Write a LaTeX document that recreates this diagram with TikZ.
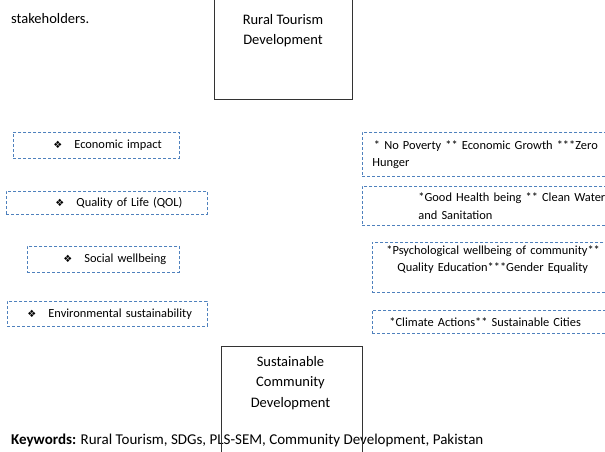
\documentclass[tikz,border=0pt]{standalone}
\usepackage{fontspec}
\setmainfont{Carlito}
\newfontfamily\symfont{DejaVu Sans}
\usetikzlibrary{positioning}
\definecolor{boxblue}{RGB}{79,129,189}
\newcommand{\bul}{{\fontsize{10}{10}\symfont ❖}}
\tikzset{
    sdg box/.style={draw=boxblue, dash pattern=on 3pt off 2pt, line width=0.9pt, anchor=north west, inner ysep=0pt, align=left, font=\fontsize{12.4}{17.5}\selectfont}, % dashed boxes
    left item/.style 2 args={sdg box, inner xsep=0pt, text width=#1, minimum height=#2},
    right item/.style 2 args={sdg box, inner xsep=10pt, text width=#1, minimum height=#2},
    frame box/.style={draw=black!80, line width=1pt, anchor=north west},
    frame label/.style={inner sep=0pt, align=center, anchor=north, font=\fontsize{14.5}{20.5}\selectfont},
    plain text/.style={inner sep=0pt, anchor=base west, font=\fontsize{14.5}{17}\selectfont}
}
\begin{document}
\begin{tikzpicture}[x=1pt, y=-1pt]
    \useasboundingbox (0,0) rectangle (605,452);
    \clip (0,0) rectangle (605,452);

    \node[plain text] (stake) at (11,24) {stakeholders.};
    \node[plain text, font=\fontsize{15}{17}\selectfont] (keys) at (11,444) {\textbf{Keywords:} Rural Tourism, SDGs, PLS-SEM, Community Development, Pakistan};

    % left column
    \node[left item={166pt}{26pt}] (econ) at (13,132) {\hspace*{40pt}\bul\hspace{12pt}Economic impact};
    \node[left item={201pt}{23pt}] (qol) at (6,191) {\hspace*{49pt}\bul\hspace{12pt}Quality of Life (QOL)};
    \node[left item={152pt}{26pt}] (social) at (27,246) {\hspace*{36pt}\bul\hspace{12pt}Social wellbeing};
    \node[left item={200pt}{25pt}] (env) at (7,301) {\hspace*{20pt}\bul\hspace{12pt}Environmental sustainability};

    % right column
    \node[right item={243pt}{44pt}] (sdg1) at (362,132) {\hspace*{1.5pt}* No Poverty ** Economic Growth ***Zero\\Hunger};
    \node[right item={243pt}{39pt}] (sdg2) at (362,186) {\hspace*{46pt}*Good Health being ** Clean Water\\\hspace*{46pt}and Sanitation};
    \node[right item={233pt}{50pt}] (sdg3) at (372,242) {\hspace*{4pt}*Psychological wellbeing of community**\\\hspace*{15pt}Quality Education***Gender Equality\\\mbox{}};
    \node[right item={233pt}{23pt}] (sdg4) at (372,310) {\hspace*{7pt}*Climate Actions** Sustainable Cities};

    % centre boxes
    \node[frame box, anchor=south west, minimum width=138pt, minimum height=130pt] (rtd) at (214,100) {};
    \node[frame label] (rtdlabel) at (283,14) {Rural Tourism\\Development};
    \node[frame box, minimum width=141pt, minimum height=130pt] (scd) at (221,346) {};
    \node[frame label] (scdlabel) at (290.5,356) {Sustainable\\Community\\Development};
\end{tikzpicture}
\end{document}
